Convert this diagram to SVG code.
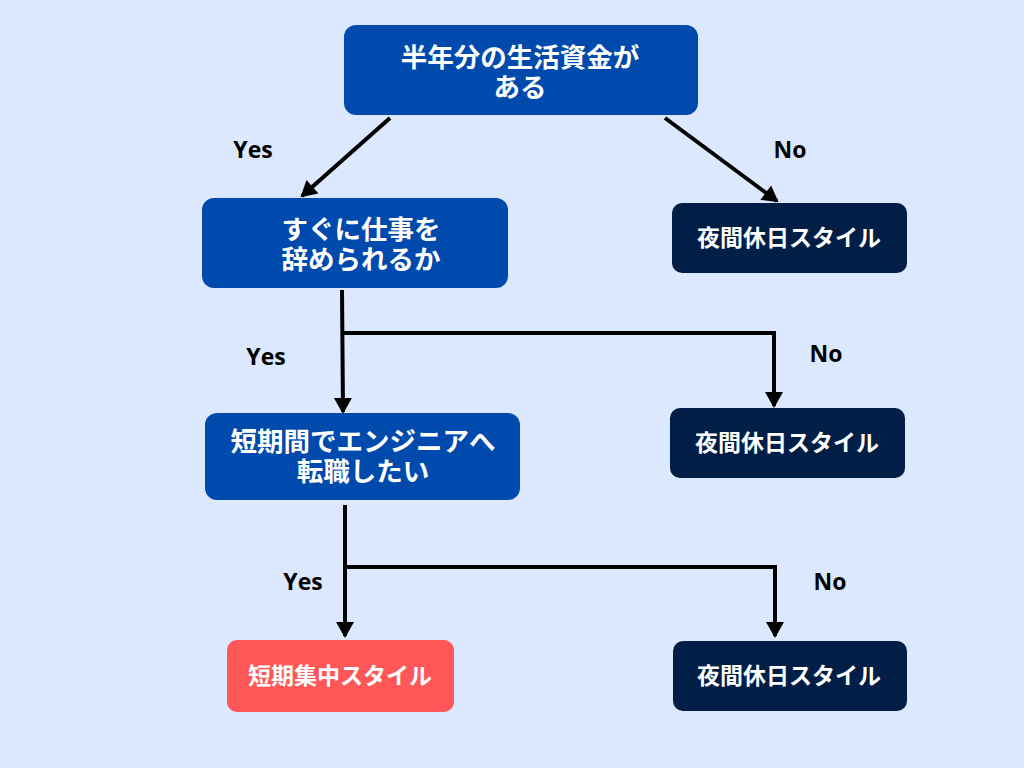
<svg xmlns="http://www.w3.org/2000/svg" width="1024" height="768" viewBox="0 0 1024 768">
<defs>
<marker id="ah" markerUnits="userSpaceOnUse" markerWidth="20" markerHeight="20" viewBox="0 0 20 20" refX="16" refY="10" orient="auto">
<path d="M2,1 L18,10 L2,19 Z" fill="#000"/>
</marker>
<style>
.blue{fill:#004aad}
.dark{fill:#011e46}
.red{fill:#ff5757}
.nt{fill:#fff;font-family:"Liberation Sans","Noto Sans CJK JP",sans-serif;font-weight:bold;text-anchor:middle}
.lbl{fill:#000;font-family:"Open Sans","Liberation Sans",sans-serif;font-weight:bold;font-size:23px;text-anchor:middle}
.c{fill:none;stroke:#000;stroke-width:4}
</style>
</defs>
<rect width="1024" height="768" fill="#dbe8fd"/>
<g id="connectors">
<line class="c" x1="390" y1="118" x2="302" y2="196" marker-end="url(#ah)"/>
<line class="c" x1="665" y1="118" x2="777" y2="201" marker-end="url(#ah)"/>
<line class="c" x1="342" y1="290" x2="343" y2="412" marker-end="url(#ah)"/>
<polyline class="c" points="342,333 774,333 774,406" marker-end="url(#ah)"/>
<line class="c" x1="345" y1="505" x2="345" y2="636" marker-end="url(#ah)"/>
<polyline class="c" points="345,567 775,567 775,636" marker-end="url(#ah)"/>
<text class="lbl" x="253" y="158">Yes</text>
<text class="lbl" x="790" y="158">No</text>
<text class="lbl" x="266" y="365">Yes</text>
<text class="lbl" x="826" y="362">No</text>
<text class="lbl" x="303" y="590">Yes</text>
<text class="lbl" x="830" y="590">No</text>
</g>
<g id="n1">
<rect class="blue" x="344" y="25" width="354" height="90" rx="12"/>
<text class="nt" font-size="26.5" x="520" y="67">半年分の生活資金が<tspan x="520" dy="29.5">ある</tspan></text>
</g>
<g id="n2">
<rect class="blue" x="202" y="198" width="306" height="90" rx="12"/>
<text class="nt" font-size="26.5" x="361" y="239">すぐに仕事を<tspan x="361" dy="29.5">辞められるか</tspan></text>
</g>
<g id="n3">
<rect class="dark" x="672" y="203" width="235" height="70" rx="10"/>
<text class="nt" font-size="23" x="789" y="246">夜間休日スタイル</text>
</g>
<g id="n4">
<rect class="blue" x="205" y="413" width="315" height="87" rx="12"/>
<text class="nt" font-size="26.5" x="363" y="451">短期間でエンジニアへ<tspan x="363" dy="29.5">転職したい</tspan></text>
</g>
<g id="n5">
<rect class="dark" x="670" y="408" width="235" height="70" rx="10"/>
<text class="nt" font-size="23" x="787" y="451">夜間休日スタイル</text>
</g>
<g id="n6">
<rect class="red" x="227" y="640" width="227" height="72" rx="10"/>
<text class="nt" font-size="23" x="340" y="684">短期集中スタイル</text>
</g>
<g id="n7">
<rect class="dark" x="673" y="641" width="234" height="70" rx="10"/>
<text class="nt" font-size="23" x="789" y="684">夜間休日スタイル</text>
</g>
</svg>
